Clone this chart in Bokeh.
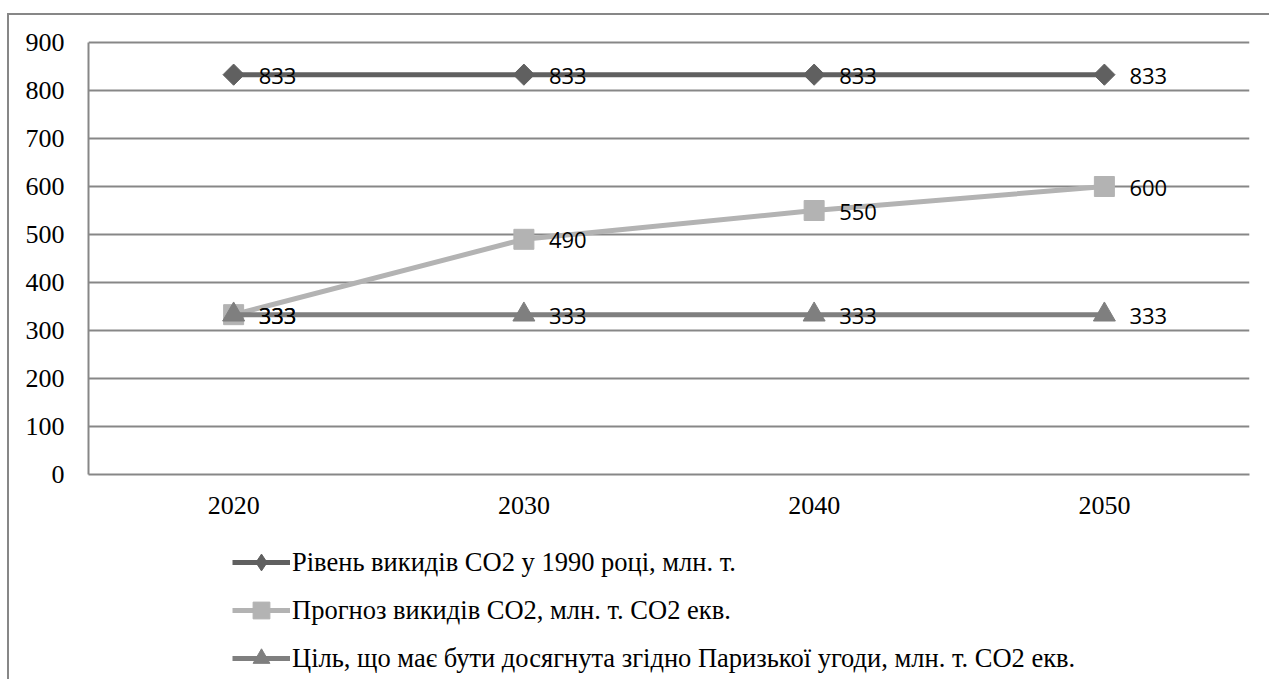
import math
from bokeh.plotting import figure
from bokeh.layouts import column
from bokeh.models import Range1d, FactorRange, Legend, LegendItem, ColumnDataSource
from bokeh.core.properties import value
from bokeh.embed import file_html
from bokeh.resources import INLINE

# Emission data, million tonnes
years = ["2020", "2030", "2040", "2050"]
level_1990 = [833, 833, 833, 833]
forecast = [333, 490, 550, 600]
paris_target = [333, 333, 333, 333]

series_names = [
    "Рівень викидів СО2 у 1990 році, млн. т.",
    "Прогноз викидів СО2, млн. т. СО2 екв.",
    "Ціль, що має бути досягнута згідно Паризької угоди, млн. т. СО2 екв.",
]
y_ticks = [0, 100, 200, 300, 400, 500, 600, 700, 800, 900]

SERIF = "Liberation Serif"
SANS = "Open Sans"
GRID = "#878787"

px_per_unit = 0.48
frame_h = 434

p = figure(
    x_range=FactorRange(*years, range_padding=0),
    y_range=Range1d(0, frame_h / px_per_unit),
    frame_width=1161, frame_height=frame_h,
    min_border_left=79, min_border_top=25, min_border_right=20, min_border_bottom=67,
    output_backend="svg", toolbar_location=None,
)
p.outline_line_color = None
p.background_fill_color = "white"
p.border_fill_color = "white"

# axes
p.yaxis.ticker = y_ticks
p.yaxis.bounds = (0, 900)
p.yaxis.major_tick_out = 0
p.yaxis.major_tick_in = 0
p.yaxis.minor_tick_out = 0
p.yaxis.minor_tick_in = 0
p.yaxis.axis_line_color = GRID
p.yaxis.axis_line_width = 2
p.yaxis.major_label_standoff = 24
p.yaxis.major_label_text_font = SERIF
p.yaxis.major_label_text_font_size = "26px"
p.yaxis.major_label_text_color = "black"

p.xaxis.major_tick_out = 0
p.xaxis.major_tick_in = 0
p.xaxis.axis_line_color = GRID
p.xaxis.axis_line_width = 2
p.xaxis.major_label_standoff = 22
p.xaxis.major_label_text_font = SERIF
p.xaxis.major_label_text_font_size = "26px"
p.xaxis.major_label_text_color = "black"

p.xgrid.grid_line_color = None
p.ygrid.ticker = y_ticks
p.ygrid.grid_line_color = GRID
p.ygrid.grid_line_width = 2

src = ColumnDataSource(dict(year=years, a=level_1990, b=forecast, c=paris_target))

colors = ["#606060", "#b3b3b3", "#7f7f7f"]
markers = ["square", "square", "triangle"]
legend_markers = ["diamond", "square", "triangle"]
angles = [math.pi / 4, 0, 0]
sizes = [15, 20, 22]
legend_sizes = [22, 20, 22]
cols = ["a", "b", "c"]

for col, color, marker, size, ang in zip(cols, colors, markers, sizes, angles):
    p.line("year", col, source=src, line_color=color, line_width=5)
    p.scatter("year", col, source=src, marker=marker, size=size, angle=ang,
              fill_color=color, line_color=color)

for col in cols:
    p.text("year", col, text=col, source=src, x_offset=25, y_offset=1,
           text_baseline="middle", text_align="left",
           text_font=value(SANS), text_font_size="22px", text_color="black")

# legend strip under the chart; its series share the data but sit outside
# this strip's own (tiny) y range, so only the legend swatches show
leg = figure(x_range=FactorRange(*years), y_range=Range1d(0, 1),
             frame_width=1260, frame_height=138, min_border=0,
             x_axis_location=None, y_axis_location=None,
             output_backend="svg", toolbar_location=None)
leg.outline_line_color = None
leg.grid.visible = False
leg.background_fill_color = "white"
leg.border_fill_color = "white"

items = []
for name, col, color, marker, size in zip(series_names, cols, colors, legend_markers, legend_sizes):
    ln = leg.line("year", col, source=src, line_color=color, line_width=5)
    sc = leg.scatter("year", col, source=src, marker=marker, size=size,
                     fill_color=color, line_color=color)
    items.append(LegendItem(label=name, renderers=[ln, sc]))

legend = Legend(items=items, location=(223, 0), orientation="vertical",
                glyph_width=58, glyph_height=42, label_height=42, spacing=6,
                label_standoff=2, padding=0, margin=0,
                border_line_color=None, background_fill_alpha=0,
                label_text_font=SERIF, label_text_font_size="26.5px",
                label_text_color="black")
leg.add_layout(legend)

page = column(p, leg, spacing=0)
page.styles = {
    "margin-left": "7px", "margin-top": "13px",
    "border-left": f"2px solid {GRID}", "border-top": f"2px solid {GRID}",
}

open("out.html", "w").write(file_html(page, INLINE))
